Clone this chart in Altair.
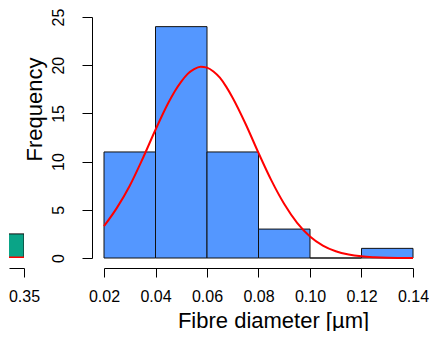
import altair as alt
import pandas as pd

# Histogram data
bin_start = [0.02, 0.04, 0.06, 0.08, 0.10, 0.12]
bin_end = [0.04, 0.06, 0.08, 0.10, 0.12, 0.14]
counts = [11, 24, 11, 3, 0, 1]

# Fitted normal curve
curve_x = [0.020, 0.025, 0.030, 0.035, 0.040, 0.045, 0.0475, 0.050, 0.0525,
           0.055, 0.0575, 0.060, 0.0625, 0.065, 0.0675, 0.070, 0.075, 0.080,
           0.085, 0.090, 0.095, 0.100, 0.105, 0.110, 0.115, 0.120, 0.125,
           0.130, 0.135, 0.140]
curve_y = [3.3, 5.2, 7.5, 10.3, 13.3, 16.1, 17.3, 18.3, 19.1,
           19.6, 19.85, 19.75, 19.35, 18.7, 17.75, 16.6, 13.9, 10.9,
           8.05, 5.6, 3.65, 2.24, 1.29, 0.70, 0.36, 0.17, 0.08,
           0.03, 0.01, 0.0]

x_ticks = [0.02, 0.04, 0.06, 0.08, 0.10, 0.12, 0.14]
y_ticks = [0, 5, 10, 15, 20, 25]

# Fragment of the neighbouring panel on the left
frag_start = [0.30]
frag_end = [0.35]
frag_count = [2.5]
frag_line_x = [0.30, 0.35]
frag_line_y = [0.05, 0.05]
frag_ticks = [0.35]

FONT = "Liberation Sans"
BLUE = "#5497FF"
TEAL = "#0AA487"

hist_df = pd.DataFrame({"start": bin_start, "end": bin_end, "count": counts})
curve_df = pd.DataFrame({"x": curve_x, "y": curve_y})
frag_df = pd.DataFrame({"start": frag_start, "end": frag_end, "count": frag_count})
frag_line_df = pd.DataFrame({"x": frag_line_x, "y": frag_line_y})

H = 241

xscale = alt.Scale(domain=[0.02, 0.14], nice=False, zero=False)
yscale = alt.Scale(domain=[0, 25], nice=False)

xaxis = alt.Axis(values=x_ticks, format=".2f", title="Fibre diameter [µm]",
                 offset=10, tickSize=9, labelFlush=False, grid=False,
                 labelFontSize=16, titleFontSize=22, labelPadding=11,
                 domainColor="#000", tickColor="#000", labelColor="#000",
                 titleColor="#000", titleFontWeight="normal", labelFont=FONT,
                 titleFont=FONT, titleX=169, titleY=59, titleAlign="center",
                 titleBaseline="alphabetic", titleAnchor="start")
yaxis = alt.Axis(values=y_ticks, title="Frequency", offset=12, tickSize=10,
                 labelAngle=270, labelAlign="center", labelBaseline="alphabetic",
                 labelPadding=19, grid=False, labelFontSize=16, titleFontSize=22,
                 domainColor="#000", tickColor="#000", labelColor="#000",
                 titleColor="#000", titleFontWeight="normal", labelFont=FONT,
                 titleFont=FONT, titleAngle=270, titleX=-51, titleY=92,
                 titleAlign="center", titleBaseline="alphabetic", labelFlush=False,
                 titleAnchor="start")

bars = alt.Chart(hist_df).mark_rect(color=BLUE, stroke="#111", strokeWidth=1).encode(
    x=alt.X("start:Q", scale=xscale, axis=xaxis),
    x2="end:Q",
    y=alt.Y("count:Q", scale=yscale, axis=yaxis),
    y2=alt.datum(0),
)
curve = alt.Chart(curve_df).mark_line(color="#FF0000", strokeWidth=2,
                                      interpolate="monotone").encode(
    x=alt.X("x:Q", scale=xscale),
    y=alt.Y("y:Q", scale=yscale),
)
main = alt.layer(bars, curve).properties(width=309, height=H)

fscale = alt.Scale(domain=[0.335, 0.35], nice=False, zero=False)
faxis = alt.Axis(values=frag_ticks, format=".2f", title=None, offset=10,
                 tickSize=9, labelFlush=False, grid=False, labelFontSize=16,
                 labelPadding=11, domainColor="#000", tickColor="#000",
                 labelColor="#000", labelFont=FONT)
fbars = alt.Chart(frag_df).mark_rect(color=TEAL, stroke="#111", strokeWidth=1,
                                     clip=True).encode(
    x=alt.X("start:Q", scale=fscale, axis=faxis),
    x2="end:Q",
    y=alt.Y("count:Q", scale=yscale, axis=None),
    y2=alt.datum(0),
)
fline = alt.Chart(frag_line_df).mark_line(color="#FF0000", strokeWidth=2,
                                          clip=True).encode(
    x=alt.X("x:Q", scale=fscale),
    y=alt.Y("y:Q", scale=yscale),
)
frag = alt.layer(fbars, fline).properties(width=15, height=H)

chart = alt.hconcat(frag, main, spacing=80, bounds="flush").properties(
    padding={"left": 0, "top": 0, "right": 0, "bottom": 0}
).configure_view(stroke=None).resolve_scale(x="independent")

chart.save("out.html", embed_options={"renderer": "svg", "actions": False})
